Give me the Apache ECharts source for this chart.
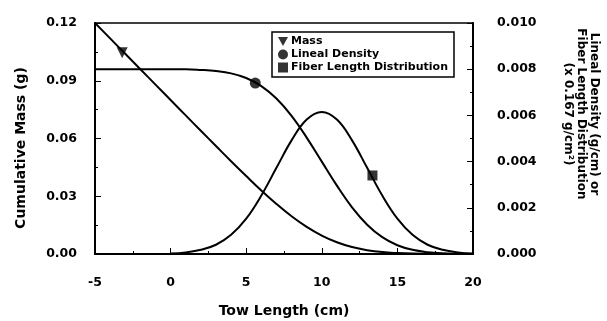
<!DOCTYPE html>
<html>
<head>
<meta charset="utf-8">
<script src="https://cdn.jsdelivr.net/npm/echarts@6/dist/echarts.min.js"></script>
<style>
  html, body { margin: 0; padding: 0; background: #fff; }
  #chart { width: 607px; height: 321px; }
</style>
</head>
<body>
<div id="chart"></div>
<script>
// tow length (cm)
const towLength = [-5, -4, -3, -2, -1, 0, 1, 2, 3, 4, 5, 6, 7, 8, 9, 10, 11, 12, 13, 14, 15, 16, 17, 18, 19, 20];
// cumulative mass (g), left axis
const massValues = [0.1200, 0.1120, 0.1040, 0.0960, 0.0880, 0.0800, 0.0720, 0.0640, 0.0561, 0.0482, 0.0405, 0.0330, 0.0260,
   0.0196, 0.0141, 0.0096, 0.0061, 0.0036, 0.0020, 0.0010, 0.0005, 0.0002, 0.0001, 0.0000, 0.0000, 0.0000];
// lineal density (g/cm), right axis
const linealValues = [0.0080, 0.0080, 0.0080, 0.0080, 0.0080, 0.0080, 0.0080, 0.00797, 0.00792, 0.00782, 0.00762, 0.00727,
   0.00673, 0.00598, 0.00504, 0.00400, 0.00296, 0.00202, 0.00127, 0.00073, 0.00038, 0.00018, 0.00008, 0.00003, 0.00001, 0];
// fiber length distribution, right axis
const fiberValues = [null, null, null, null, null, 0.00002, 0.00007, 0.00018, 0.00040, 0.00083, 0.00153, 0.00253, 0.00373,
   0.00492, 0.00582, 0.00615, 0.00582, 0.00492, 0.00373, 0.00253, 0.00153, 0.00083, 0.00040, 0.00018, 0.00007, 0.00002];

// marker points
const massMarker = [-3.2, 0.1046];
const linealMarker = [5.6, 0.0074];
const fiberMarker = [13.35, 0.0034];

const font = "DejaVu Sans";

const chart = echarts.init(document.getElementById("chart"));

const pair = (xs, ys) => xs.map((x, i) => [x, ys[i]]);

const tickStyle = {
   axisLine: { show: true, onZero: false, lineStyle: { color: "#000", width: 2 } },
   axisTick: { show: true, inside: true, length: 6, lineStyle: { color: "#000", width: 1 } },
   minorTick: { show: true, splitNumber: 2, length: 3, lineStyle: { color: "#000", width: 1 } },
   splitLine: { show: false },
   minorSplitLine: { show: false },
};

const labelStyle = { fontFamily: font, fontWeight: "bold", fontSize: 12.5, color: "#000" };

const option = {
   animation: false,
   backgroundColor: "#fff",
   grid: {
      left: 95,
      right: 134,
      top: 23,
      bottom: 67,
      show: true,
      borderColor: "#000",
      borderWidth: 1.5,
   },
   // 图例
   legend: {
      orient: "vertical",
      left: 272,
      top: 32,
      padding: [4, 6, 4, 6],
      itemGap: 2,
      itemWidth: 10,
      itemHeight: 10,
      borderColor: "#000",
      borderWidth: 1.5,
      backgroundColor: "#fff",
      textStyle: { fontFamily: font, fontWeight: "bold", fontSize: 11, color: "#000", padding: [0, 0, 0, -2] },
      data: [
         { name: "Mass", icon: "path://M0,0L10,0L5,9Z" },
         { name: "Lineal Density", icon: "circle" },
         { name: "Fiber Length Distribution", icon: "rect" },
      ],
   },
   xAxis: {
      type: "value",
      min: -5,
      max: 20,
      interval: 5,
      ...tickStyle,
      axisLabel: { margin: 22, ...labelStyle },
   },
   yAxis: [
      {
         type: "value",
         min: 0,
         max: 0.12,
         interval: 0.03,
         ...tickStyle,
         axisLabel: { margin: 18, ...labelStyle, formatter: (v) => v.toFixed(2) },
      },
      {
         type: "value",
         position: "right",
         min: 0,
         max: 0.01,
         interval: 0.002,
         ...tickStyle,
         axisLabel: { margin: 24, ...labelStyle, formatter: (v) => v.toFixed(3) },
      },
   ],
   // 轴标题
   graphic: [
      {
         type: "text",
         x: 21,
         y: 148,
         rotation: Math.PI / 2,
         style: {
            text: "Cumulative Mass (g)",
            font: `bold 14px "${font}"`,
            fill: "#000",
            textAlign: "center",
            textVerticalAlign: "middle",
         },
      },
      {
         type: "text",
         x: 581,
         y: 114,
         rotation: -Math.PI / 2,
         style: {
            text: "Lineal Density (g/cm) or\nFiber Length Distribution\n(x 0.167 g/cm²)",
            font: `bold 12px "${font}"`,
            lineHeight: 13,
            fill: "#000",
            textAlign: "center",
            textVerticalAlign: "middle",
         },
      },
      {
         type: "text",
         x: 284,
         y: 311,
         style: {
            text: "Tow Length (cm)",
            font: `bold 14px "${font}"`,
            fill: "#000",
            textAlign: "center",
            textVerticalAlign: "middle",
         },
      },
   ],
   series: [
      {
         name: "mass-line",
         type: "line",
         yAxisIndex: 0,
         smooth: 0.4,
         showSymbol: false,
         lineStyle: { color: "#000", width: 2 },
         data: pair(towLength, massValues),
      },
      {
         name: "lineal-line",
         type: "line",
         yAxisIndex: 1,
         smooth: 0.4,
         showSymbol: false,
         lineStyle: { color: "#000", width: 2 },
         data: pair(towLength, linealValues),
      },
      {
         name: "fiber-line",
         type: "line",
         yAxisIndex: 1,
         smooth: 0.4,
         showSymbol: false,
         lineStyle: { color: "#000", width: 2 },
         data: pair(towLength, fiberValues),
      },
      {
         name: "Mass",
         type: "scatter",
         yAxisIndex: 0,
         symbol: "triangle",
         symbolRotate: 180,
         symbolSize: 11,
         itemStyle: { color: "#000" },
         data: [massMarker],
      },
      {
         name: "Lineal Density",
         type: "scatter",
         yAxisIndex: 1,
         symbol: "circle",
         symbolSize: 11,
         itemStyle: { color: "#000" },
         data: [linealMarker],
      },
      {
         name: "Fiber Length Distribution",
         type: "scatter",
         yAxisIndex: 1,
         symbol: "rect",
         symbolSize: 10,
         itemStyle: { color: "#000" },
         data: [fiberMarker],
      },
   ],
};

option && chart.setOption(option);
</script>
</body>
</html>
